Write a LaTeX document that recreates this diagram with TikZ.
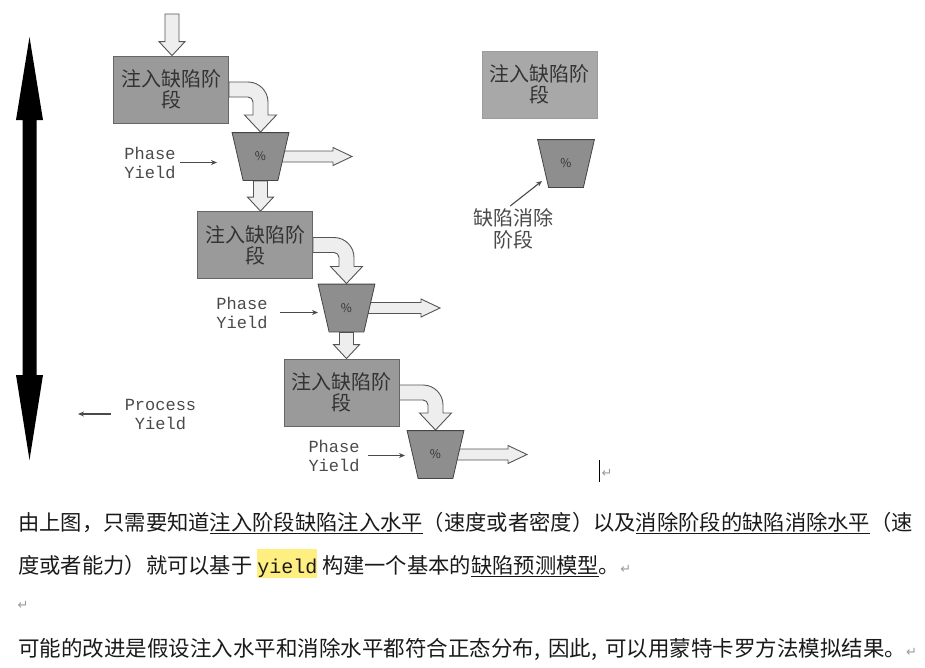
\documentclass[tikz,border=0pt]{standalone}
\usepackage{fontspec}
\usepackage{xcolor}
\usepackage{tikz}
\usetikzlibrary{arrows.meta, calc, backgrounds}
\newfontfamily\cjk{Noto Sans CJK SC}
\newfontfamily\monof{Liberation Mono}
\newfontfamily\symf{DejaVu Sans}
\definecolor{boxfill}{HTML}{9A9A9A}
\definecolor{boxline}{HTML}{666666}
\definecolor{boxlight}{HTML}{A8A8A8}
\definecolor{boxlightline}{HTML}{9C9C9C}
\definecolor{boxtext}{HTML}{333333}
\definecolor{funnelfill}{HTML}{8E8E8E}
\definecolor{funnelline}{HTML}{444444}
\definecolor{arrowfill}{HTML}{EEEEEE}
\definecolor{arrowline}{HTML}{555555}
\definecolor{labeltext}{HTML}{4A4A4A}
\definecolor{bodytext}{HTML}{1A1A1A}
\definecolor{markgray}{HTML}{9A9A9A}
\definecolor{hilite}{HTML}{FFEE80}
\tikzset{
  stagebox/.style={rectangle, draw=boxline, fill=boxfill, line width=0.8pt, minimum width=115pt, minimum height=67pt, align=center, text=boxtext, font=\cjk\fontsize{20}{21}\selectfont, inner sep=0pt},
  funnel/.style={rectangle, minimum width=57.6pt, minimum height=48.6pt, inner sep=0pt, font=\cjk\fontsize{12}{12}\selectfont, text=boxtext,
    path picture={\draw[draw=funnelline, fill=funnelfill, line width=0.8pt]
      ([shift={(0.4pt,-0.4pt)}]path picture bounding box.north west) -- ([shift={(-0.4pt,-0.4pt)}]path picture bounding box.north east)
      -- ([shift={(-11.4pt,0.4pt)}]path picture bounding box.south east) -- ([shift={(11.4pt,0.4pt)}]path picture bounding box.south west) -- cycle;}},
  yieldlabel/.style={align=center, text=labeltext, font=\monof\fontsize{17}{19}\selectfont, inner sep=0pt},
  thinarrow/.style={draw=labeltext, line width=1.1pt, -{Stealth[length=6pt, width=5pt]}},
  blockarrow/.style={draw=arrowline, fill=arrowfill, line width=0.9pt, line join=miter},
  parmark/.style={text=markgray, font=\symf\fontsize{13}{13}\selectfont, inner sep=0pt},
  bodyline/.style={anchor=base west, inner sep=0pt, font=\cjk\fontsize{21.3}{21.3}\selectfont, text=bodytext}
}
\newcommand\vblock[2]{%
  \path[blockarrow] let \p1=(#1), \p2=(#2) in
    (\x1-7pt,\y1) -- (\x1-7pt,\y2+14pt) -- (\x1-13pt,\y2+14pt) -- (\x1,\y2)
    -- (\x1+13pt,\y2+14pt) -- (\x1+7pt,\y2+14pt) -- (\x1+7pt,\y1) -- cycle;}
\newcommand\hblock[2]{%
  \path[blockarrow] let \p1=(#1), \p2=(#2) in
    (\x1-8pt,\y1+5.5pt) -- (\x2-19pt,\y1+5.5pt) -- (\x2-19pt,\y1+9pt) -- (\x2,\y1)
    -- (\x2-19pt,\y1-9pt) -- (\x2-19pt,\y1-5.5pt) -- (\x1-8pt,\y1-5.5pt) -- cycle;}
\newcommand\cblock[2]{%
  \path[blockarrow] let \p1=(#1), \p2=(#2) in
    (\x1,\y1+7.5pt) -- (\x2-12.5pt,\y1+7.5pt) arc[start angle=90, end angle=0, radius=20pt]
    -- (\x2+7.5pt,\y2+17pt) -- (\x2+16pt,\y2+17pt) -- (\x2,\y2) -- (\x2-16pt,\y2+17pt)
    -- (\x2-7.5pt,\y2+17pt) -- (\x2-7.5pt,\y1-12.5pt) arc[start angle=0, end angle=90, radius=5pt]
    -- (\x1,\y1-7.5pt) -- cycle;}

\begin{document}
\begin{tikzpicture}[x=1pt, y=-1pt]
    \useasboundingbox (0,0) rectangle (925,667);

    \node (inj1) [stagebox] at (171,89.5) {注入缺陷阶\\段};
    \node (yld1) [funnel] at (260.5,156.5) {\%};
    \node (inj2) [stagebox] at (255,245) {注入缺陷阶\\段};
    \node (yld2) [funnel] at (346.5,308) {\%};
    \node (inj3) [stagebox] at (341.5,392.5) {注入缺陷阶\\段};
    \node (yld3) [funnel] at (435.5,454.5) {\%};
    \node (inj4) [stagebox, fill=boxlight, draw=boxlightline] at (539.5,84.5) {注入缺陷阶\\段};
    \node (yld4) [funnel] at (566,163.5) {\%};

    \coordinate (in1) at (172,14);
    \coordinate (out1) at (352,156.5);
    \coordinate (out2) at (440,308);
    \coordinate (out3) at (527,454.5);

    \begin{pgfonlayer}{background}
    \vblock{in1}{inj1.north}
    \cblock{inj1.east}{yld1.north}
    \hblock{yld1.east}{out1}
    \vblock{yld1.south}{inj2.north}
    \cblock{inj2.east}{yld2.north}
    \hblock{yld2.east}{out2}
    \vblock{yld2.south}{inj3.north}
    \cblock{inj3.east}{yld3.north}
    \hblock{yld3.east}{out3}
    \end{pgfonlayer}

    \node (py1) [yieldlabel] at (150,162.5) {Phase\\Yield};
    \node (py2) [yieldlabel] at (242,312.5) {Phase\\Yield};
    \node (py3) [yieldlabel] at (334,455.5) {Phase\\Yield};
    \node (pry) [yieldlabel] at (160.5,414) {Process\\Yield};
    \node (elim) [align=center, text=labeltext, font=\cjk\fontsize{20}{22}\selectfont, inner sep=0pt] at (513,229) {缺陷消除\\阶段};

    \coordinate (py1end) at (217,162.5);
    \coordinate (py2end) at (318,312.5);
    \coordinate (py3end) at (405,455.5);
    \coordinate (pryend) at (78,414);
    \coordinate (elimend) at (542,181);

    \draw[thinarrow, shorten <=4pt] (py1.east) -- (py1end);
    \draw[thinarrow, shorten <=12pt] (py2.east) -- (py2end);
    \draw[thinarrow, shorten <=8pt] (py3.east) -- (py3end);
    \draw[thinarrow, shorten <=14pt] (pry.west) -- (pryend);
    \draw[thinarrow, shorten <=4pt] ([xshift=-6pt]elim.north) -- (elimend);

    \fill[black] (29.5,37) -- (43,120) -- (36.5,120) -- (36.5,375) -- (43,375) -- (29.5,460)
        -- (16,375) -- (22.5,375) -- (22.5,120) -- (16,120) -- cycle;

    \draw[line width=1pt] (599,460) -- (599,482);
    \node (endmark) [parmark] at (607,473) {↵};

    \node (para1) [bodyline] at (18,530) {由上图，只需要知道\underline{注入阶段缺陷注入水平}（速度或者密度）以及\underline{消除阶段的缺陷消除水平}（速};
    \node (para2) [bodyline] at (18,573) {度或者能力）就可以基于 {\setlength\fboxsep{0pt}\colorbox{hilite}{\rule[-5pt]{0pt}{29pt}\monof\fontsize{20}{20}\selectfont yield}} 构建一个基本的\underline{缺陷预测模型}。{\symf\color{markgray}\fontsize{13}{13}\selectfont ↵}};
    \node (blank) [parmark] at (23,605) {↵};
    \node (para3) [bodyline, font=\cjk\fontsize{21.5}{21.5}\selectfont] at (18,656) {可能的改进是假设注入水平和消除水平都符合正态分布,\hspace{8pt}因此,\hspace{8pt}可以用蒙特卡罗方法模拟结果。{\symf\color{markgray}\fontsize{13}{13}\selectfont ↵}};
\end{tikzpicture}
\end{document}
